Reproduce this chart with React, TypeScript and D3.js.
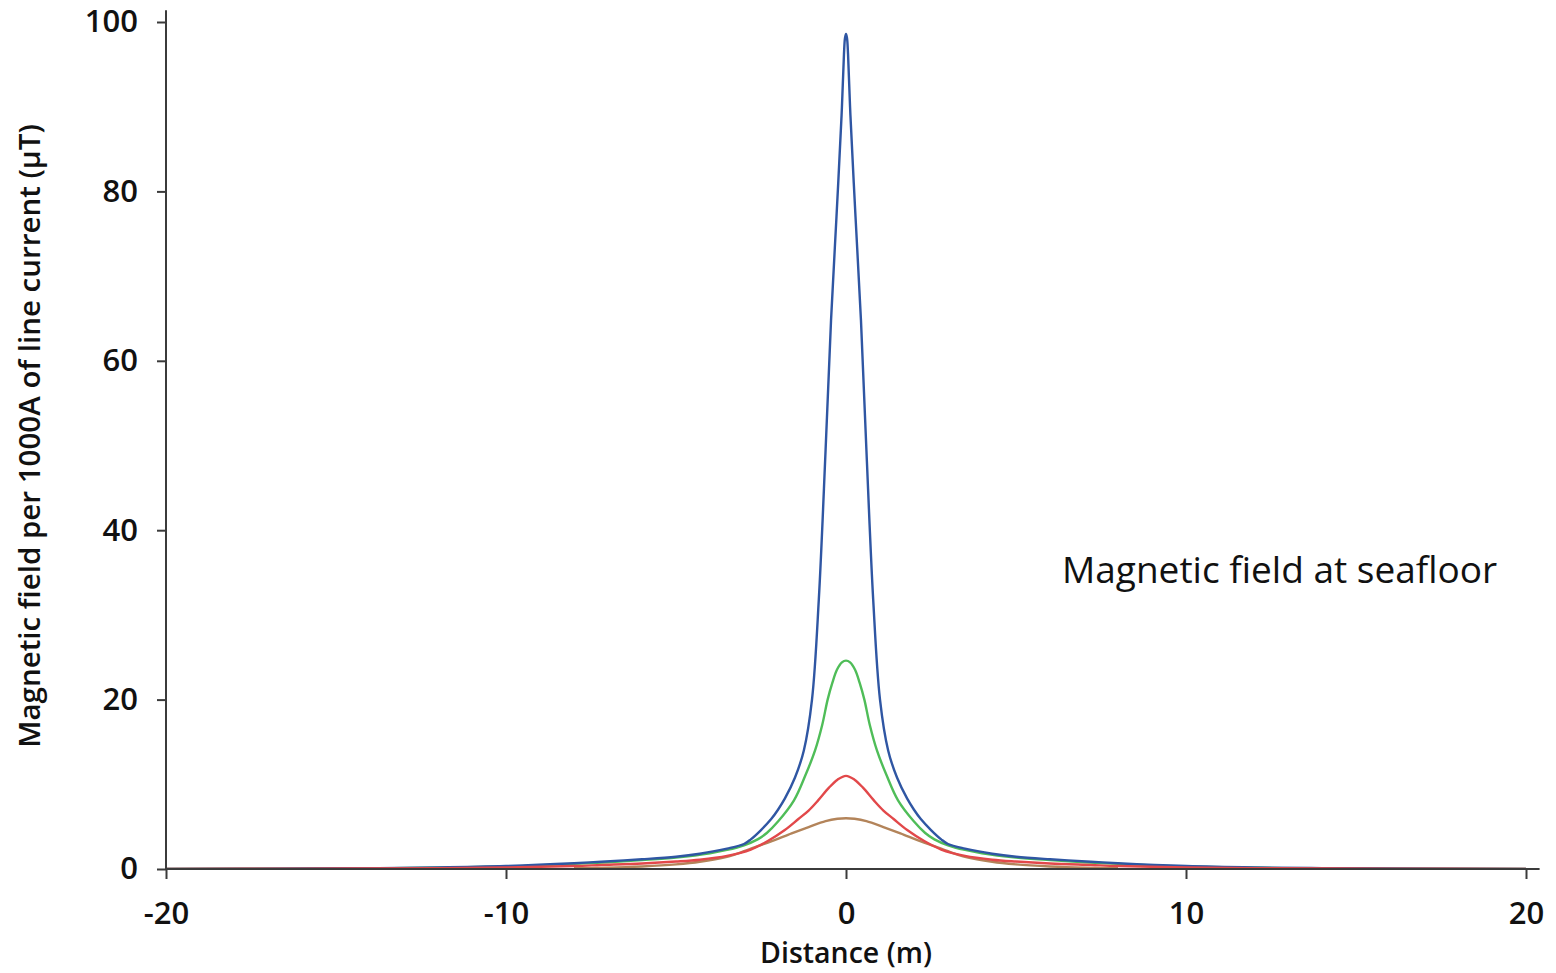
import React, { useEffect, useRef } from "react";
import * as d3 from "d3";

// distance (m), field (µT per 1000 A)
const blueCurve: [number, number][] = [
  [-20, 0.02], [-16, 0.06], [-14, 0.1], [-12, 0.18], [-10, 0.35], [-8, 0.68],
  [-7.2, 0.86], [-6, 1.15], [-5, 1.45], [-4.3, 1.8], [-3.5, 2.4], [-3, 2.95],
  [-2.8, 3.5], [-2.5, 4.6], [-2.2, 5.9], [-2, 7.0], [-1.8, 8.3], [-1.5, 10.8],
  [-1.24, 14], [-1, 20], [-0.8, 31.8], [-0.6, 49.5], [-0.44, 64.8],
  [-0.28, 77], [-0.13, 89], [-0.06, 96.2], [-0.03, 98.1], [0, 98.6],
  [0.03, 98.1], [0.06, 96.2], [0.13, 89], [0.28, 77], [0.44, 64.8],
  [0.6, 49.5], [0.8, 31.8], [1, 20], [1.24, 14], [1.5, 10.8], [1.8, 8.3],
  [2, 7.0], [2.2, 5.9], [2.5, 4.6], [2.8, 3.5], [3, 2.95], [3.5, 2.4],
  [4.3, 1.8], [5, 1.45], [6, 1.15], [7.2, 0.86], [8, 0.68], [10, 0.35],
  [12, 0.18], [14, 0.1], [16, 0.06], [20, 0.02],
];

const greenCurve: [number, number][] = [
  [-20, 0.02], [-14, 0.08], [-10, 0.3], [-8, 0.6], [-7, 0.8], [-6, 1.05],
  [-5, 1.35], [-4, 1.85], [-3.5, 2.25], [-3, 2.8], [-2.6, 3.5], [-2.33, 4.25],
  [-2, 5.6], [-1.53, 8.1], [-1.2, 11], [-0.91, 14], [-0.7, 17], [-0.54, 20],
  [-0.4, 22], [-0.27, 23.5], [-0.12, 24.4], [0, 24.6], [0.12, 24.4],
  [0.27, 23.5], [0.4, 22], [0.54, 20], [0.7, 17], [0.91, 14], [1.2, 11],
  [1.53, 8.1], [2, 5.6], [2.33, 4.25], [2.6, 3.5], [3, 2.8], [3.5, 2.25],
  [4, 1.85], [5, 1.35], [6, 1.05], [7, 0.8], [8, 0.6], [10, 0.3],
  [14, 0.08], [20, 0.02],
];

const redCurve: [number, number][] = [
  [-20, 0.02], [-16, 0.04], [-12, 0.1], [-10, 0.18], [-8, 0.35], [-7.2, 0.47],
  [-6, 0.65], [-5, 0.88], [-4.3, 1.1], [-3.5, 1.55], [-2.8, 2.3], [-2.3, 3.3],
  [-1.8, 4.6], [-1.4, 5.9], [-1.1, 6.9], [-0.82, 8.1], [-0.5, 9.6],
  [-0.25, 10.55], [0, 11.0], [0.25, 10.55], [0.5, 9.6], [0.82, 8.1],
  [1.1, 6.9], [1.4, 5.9], [1.8, 4.6], [2.3, 3.3], [2.8, 2.3], [3.5, 1.55],
  [4.3, 1.1], [5, 0.88], [6, 0.65], [7.2, 0.47], [8, 0.35], [10, 0.18],
  [12, 0.1], [16, 0.04], [20, 0.02],
];

const brownCurve: [number, number][] = [
  [-8, 0.08], [-7, 0.15], [-6, 0.3], [-5, 0.55], [-4.3, 0.85], [-3.5, 1.45],
  [-3, 2.1], [-2.6, 2.7], [-2.2, 3.25], [-1.6, 4.2], [-1.1, 4.95],
  [-0.6, 5.65], [-0.25, 5.93], [0, 6.0], [0.25, 5.93], [0.6, 5.65],
  [1.1, 4.95], [1.6, 4.2], [2.2, 3.25], [2.6, 2.7], [3, 2.1], [3.5, 1.45],
  [4.3, 0.85], [5, 0.55], [6, 0.3], [7, 0.15], [8, 0.08],
];

const xTicks = [-20, -10, 0, 10, 20];
const yTicks = [0, 20, 40, 60, 80, 100];

const xLabel = "Distance (m)";
const yLabel = "Magnetic field per 1000A of line current (µT)";
const note = "Magnetic field at seafloor";

// drawn bottom to top: red sits over the others along the baseline
const series = [
  { name: "brown", data: brownCurve, color: "#b3845a" },
  { name: "green", data: greenCurve, color: "#4fbd58" },
  { name: "blue", data: blueCurve, color: "#2f56a3" },
  { name: "red", data: redCurve, color: "#e2484a" },
];

const W = 1556;
const H = 973;

export default function App() {
  const ref = useRef<SVGSVGElement | null>(null);

  useEffect(() => {
    const svg = d3.select(ref.current);
    svg.selectAll("*").remove();

    const x = d3.scaleLinear().domain([-20, 20]).range([166, 1526]);
    const y = d3.scaleLinear().domain([0, 100]).range([869, 22]);
    const axisColor = "#3b3b3b";
    const font = "'Open Sans', 'DejaVu Sans', sans-serif";

    const line = d3
      .line<[number, number]>()
      .x((d) => x(d[0]))
      .y((d) => y(d[1]))
      .curve(d3.curveCatmullRom.alpha(0.5));

    svg
      .append("g")
      .selectAll("path")
      .data(series)
      .join("path")
      .attr("d", (d) => line(d.data))
      .attr("fill", "none")
      .attr("stroke", (d) => d.color)
      .attr("stroke-width", 2.4)
      .attr("stroke-linejoin", "round");

    // axes
    const yAxis = svg
      .append("g")
      .attr("transform", `translate(${x(-20)},0)`)
      .call(d3.axisLeft(y).tickValues(yTicks).tickSize(9).tickPadding(19));
    yAxis.select(".domain").remove();
    yAxis
      .append("line")
      .attr("y1", y(101.4))
      .attr("y2", y(0))
      .attr("stroke", axisColor)
      .attr("stroke-width", 2);

    const xAxis = svg
      .append("g")
      .attr("transform", `translate(0,${y(0)})`)
      .call(
        d3
          .axisBottom(x)
          .tickValues(xTicks)
          .tickFormat((d) => String(d))
          .tickSize(10)
          .tickPadding(23)
      );
    xAxis.select(".domain").remove();
    xAxis
      .append("line")
      .attr("x1", x(-20))
      .attr("x2", x(20.4))
      .attr("stroke", axisColor)
      .attr("stroke-width", 2);

    svg.selectAll(".tick line").attr("stroke", axisColor).attr("stroke-width", 2);
    svg
      .selectAll(".tick text")
      .attr("fill", "#111")
      .style("font-family", font)
      .style("font-weight", 600)
      .style("font-size", "31px");

    svg
      .append("text")
      .attr("x", x(0))
      .attr("y", 963)
      .attr("text-anchor", "middle")
      .style("font-family", font)
      .style("font-weight", 600)
      .style("font-size", "28.5px")
      .attr("fill", "#111")
      .text(xLabel);

    svg
      .append("text")
      .attr("transform", `translate(40,${436}) rotate(-90)`)
      .attr("text-anchor", "middle")
      .style("font-family", font)
      .style("font-weight", 600)
      .style("font-size", "29.5px")
      .attr("fill", "#111")
      .text(yLabel);

    svg
      .append("text")
      .attr("x", 1062)
      .attr("y", 583)
      .style("font-family", font)
      .style("font-size", "37px")
      .attr("fill", "#111")
      .text(note);
  }, []);

  return (
    <svg
      ref={ref}
      width={W}
      height={H}
      style={{ position: "absolute", left: 0, top: 0, background: "#fff" }}
    />
  );
}
